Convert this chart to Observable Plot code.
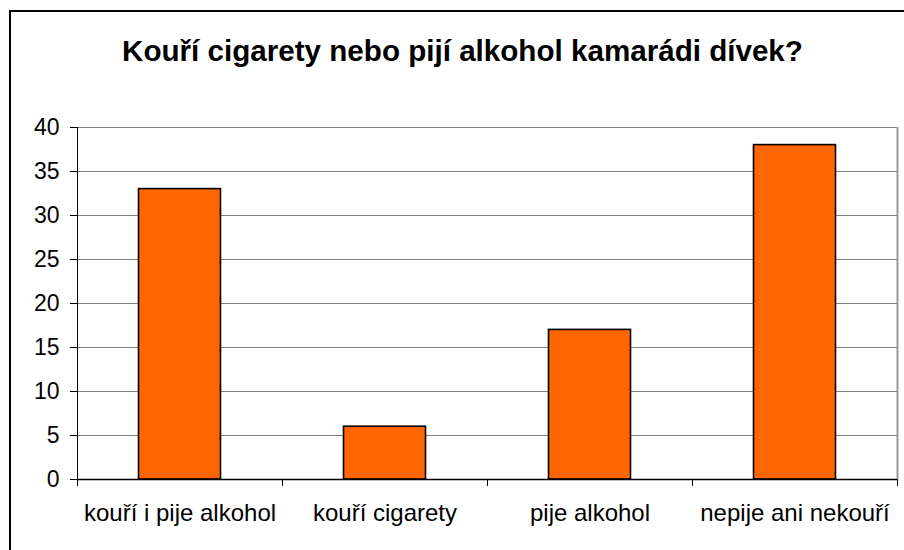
<!DOCTYPE html>
<html>
<head>
<meta charset="utf-8">
<script src="https://cdn.jsdelivr.net/npm/d3@7"></script>
<script src="https://cdn.jsdelivr.net/npm/@observablehq/plot@0.6"></script>
<style>
  html, body { margin: 0; padding: 0; background: #fff; }
  #wrap { position: relative; width: 904px; height: 550px; overflow: hidden; background: #fff; }
  #frame { position: absolute; left: 9px; top: 10px; width: 1000px; height: 1000px; border: 2px solid #000; box-sizing: border-box; }
  #title { position: absolute; left: 20px; width: 885px; top: 36px; text-align: center; font-family: "Liberation Sans", Arial, sans-serif; font-weight: bold; font-size: 29.6px; line-height: 29px; color: #000; white-space: nowrap; }
  #chart { position: absolute; left: 0; top: 100px; }
</style>
</head>
<body>
<div id="wrap">
  <div id="frame"></div>
  <div id="title">Kouří cigarety nebo pijí alkohol kamarádi dívek?</div>
  <div id="chart"></div>
</div>
<script>
const categories = ["kouří i pije alkohol", "kouří cigarety", "pije alkohol", "nepije ani nekouří"];
const values = [33, 6, 17, 38];
const yTicks = [0, 5, 10, 15, 20, 25, 30, 35, 40];

const table = categories.map((c, i) => ({cat: c, i, value: values[i]}));
const boundaries = d3.range(categories.length + 1);

const plot = Plot.plot({
  width: 904,
  height: 450,
  marginLeft: 77,
  marginRight: 7,
  marginTop: 27,
  marginBottom: 71,
  style: {fontFamily: "Liberation Sans, Arial, sans-serif", fontSize: "23px", color: "#000", background: "transparent"},
  x: {domain: [0, categories.length], axis: null},
  y: {domain: [0, 40], axis: null},
  marks: [
    Plot.gridY(yTicks.filter(d => d > 0), {stroke: "#808080", strokeOpacity: 1, strokeWidth: 1}),
    Plot.ruleX([categories.length], {stroke: "#999999", strokeWidth: 2}),
    Plot.rectY(table, {x1: d => d.i + 0.3, x2: d => d.i + 0.7, y1: 0, y2: "value", fill: "#FF6600", stroke: "#000", strokeWidth: 1.6}),
    Plot.ruleX([0], {stroke: "#000", strokeWidth: 1}),
    Plot.ruleY([0], {stroke: "#000", strokeWidth: 1.5}),
    Plot.axisY({ticks: yTicks, tickSize: 7, tickPadding: 11, fontSize: 23, stroke: "#000", fill: "#000", label: null}),
    Plot.axisX({ticks: boundaries, tickSize: 7, tickFormat: () => "", stroke: "#000", label: null}),
    Plot.text(table, {x: d => d.i + 0.5, y: () => 0, text: "cat", dy: 34, fontSize: 24, fill: "#000", lineAnchor: "middle"})
  ]
});
document.getElementById("chart").appendChild(plot);
</script>
</body>
</html>
